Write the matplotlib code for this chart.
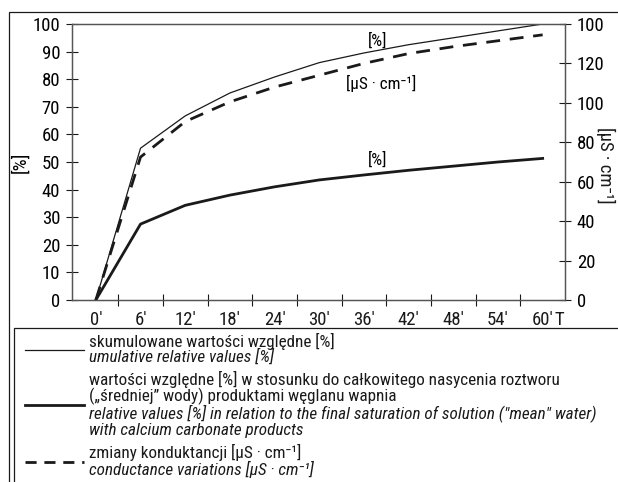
import matplotlib
matplotlib.use("Agg")
import matplotlib.pyplot as plt
from matplotlib import font_manager
from matplotlib.lines import Line2D
from matplotlib.patches import Rectangle

# prefer a condensed face if one is installed
installed = {f.name for f in font_manager.fontManager.ttflist}
families = [f for f in ['Liberation Sans Narrow', 'DejaVu Sans Condensed', 'Roboto Condensed']
            if f in installed]
plt.rcParams['font.family'] = families + ['Liberation Sans', 'DejaVu Sans']
narrow = len(families) > 0

# time in minutes
minutes = [0, 6, 12, 18, 24, 30, 36, 42, 48, 54, 60]
# cumulative relative values [%]
cumulative = [0, 55, 66.7, 75, 80.8, 86, 89.5, 92.5, 95, 97.5, 100]
# relative values in relation to final saturation [%]
relative = [0, 27.5, 34.3, 38, 41, 43.5, 45.3, 47, 48.5, 50, 51.3]
# conductance variations [uS/cm]
conductance = [0, 72.5, 90.5, 100.5, 108, 114, 120, 125, 128.5, 131.5, 134.5]

x_labels = ["0'", "6'", "12'", "18'", "24'", "30'", "36'", "42'", "48'", "54'", "60'"]
left_ticks = [0, 10, 20, 30, 40, 50, 60, 70, 80, 90, 100]
right_ticks = [0, 20, 40, 60, 80, 100, 120, 140]
right_labels = ["0", "20", "40", "60", "80", "100", "120", "100"]

ink = "#1a1a1a"
spine = "#555555"
fs_tick = 13.5 if narrow else 12
fs_leg = 12.3 if narrow else 11

fig = plt.figure(figsize=(6.18, 4.82), dpi=100)
ax = fig.add_axes([72 / 618, 1 - 300 / 482, (565 - 72) / 618, 276 / 482])
ax2 = ax.twinx()

ax.plot(minutes, cumulative, color=ink, lw=0.9)
ax.plot(minutes, relative, color=ink, lw=2.0)
ax2.plot(minutes, conductance, color=ink, lw=2.0, ls=(0, (5, 3.5)))

ax.set_xlim(-3.2, 63)
ax.set_ylim(0, 100)
ax2.set_ylim(0, 140)

# tick marks sit between the labels
ax.set_xticks([m + 3 for m in minutes[:-1]])
ax.set_xticklabels([])
ax.set_xticks(minutes + [62.3], minor=True)
ax.set_xticklabels(x_labels + ["T"], minor=True)
ax.tick_params(axis='x', which='major', direction='inout', length=9, width=0.8, color=ink)
ax.tick_params(axis='x', which='minor', length=0, pad=8, labelsize=fs_tick, colors=ink)

ax.set_yticks(left_ticks)
ax.tick_params(axis='y', direction='inout', length=9, width=0.8, labelsize=fs_tick, pad=4, color=ink)
ax2.set_yticks(right_ticks)
ax2.set_yticklabels(right_labels)
ax2.tick_params(axis='y', direction='inout', length=9, width=0.8, labelsize=fs_tick, pad=4, color=ink)

for a in (ax, ax2):
    for s in a.spines.values():
        s.set_color(spine)
        s.set_linewidth(0.9)

ax.set_ylabel("[%]", fontsize=fs_tick, labelpad=2)
fig.text(606 / 618, 1 - 165 / 482, "[µS · cm⁻¹]", fontsize=fs_tick, rotation=-90,
         ha='center', va='center', color=ink)

ax.text(37.8, 94, "[%]", ha='center', va='center', fontsize=fs_leg)
ax.text(38.3, 78.6, "[µS · cm⁻¹]", ha='center', va='center', fontsize=fs_leg)
ax.text(37.8, 50.7, "[%]", ha='center', va='center', fontsize=fs_leg)

# outer frame and legend box
fig.patches.append(Rectangle((9 / 618, -0.1), 1.0, 1 - 12 / 482 + 0.1, transform=fig.transFigure,
                             fill=False, ec=ink, lw=0.9))
fig.patches.append(Rectangle((14 / 618, -0.1), 1.0, 1 - 328 / 482 + 0.1, transform=fig.transFigure,
                             fill=False, ec=ink, lw=0.9))

def legend_line(y, lw, ls='-'):
    fig.lines.append(Line2D([25 / 618, 84 / 618], [1 - y / 482] * 2, transform=fig.transFigure,
                            color=ink, lw=lw, ls=ls))

def legend_text(y, s, italic=False):
    fig.text(89 / 618, 1 - y / 482, s, ha='left', va='center', fontsize=fs_leg, color=ink,
             style='italic' if italic else 'normal')

legend_line(350, 0.9)
legend_text(341, "skumulowane wartości względne [%]")
legend_text(357, "umulative relative values [%]", True)

legend_line(405, 2.0)
legend_text(379, "wartości względne [%] w stosunku do całkowitego nasycenia roztworu")
legend_text(396, "(„średniej\u201d wody) produktami węglanu wapnia")
legend_text(413, "relative values [%] in relation to the final saturation of solution (\"mean\" water)", True)
legend_text(431, "with calcium carbonate products", True)

legend_line(462, 2.0, (0, (4, 2.8)))
legend_text(452, "zmiany konduktancji [µS · cm⁻¹]")
legend_text(469, "conductance variations [µS · cm⁻¹]", True)

fig.savefig("out.png", dpi=100)
